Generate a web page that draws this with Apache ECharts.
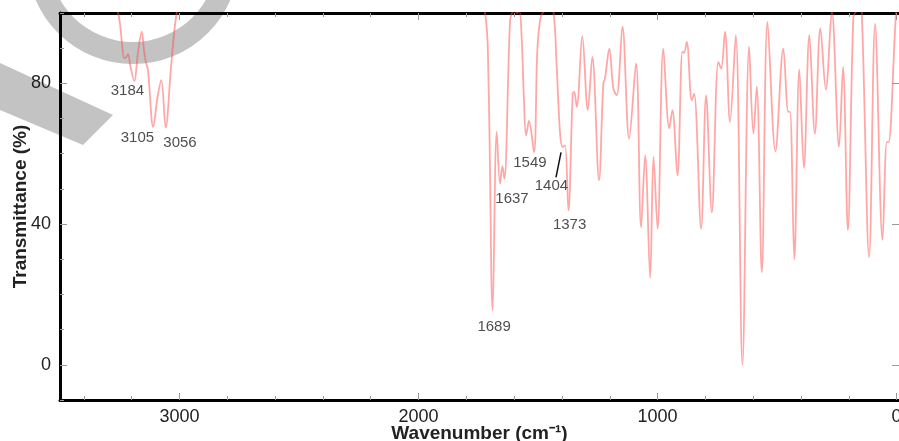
<!DOCTYPE html>
<html>
<head>
<meta charset="utf-8">
<script src="https://cdn.jsdelivr.net/npm/echarts@6/dist/echarts.min.js"></script>
<style>html,body{margin:0;padding:0;background:#fff}#c{width:899px;height:441px}</style>
</head>
<body>
<div id="c"></div>
<script>
// Spectrum: [wavenumber (cm-1), transmittance (%)]
var spectrumPoints = [
  [3500,104],[3280,102],[3257,100],[3240,91],[3232,87.2],[3222,87.5],[3215,88.3],[3206,85],[3189,80.6],
  [3175,88],[3158,94.7],[3148,89],[3141,86.1],[3132,83.8],[3110,67.6],[3092,76],[3076,80.9],[3058,67.4],
  [3035,85],[3012,100],[2990,104],[2500,104],[2000,104],[1760,104],[1722,100],[1708,82.8],[1690,15.4],
  [1673,66.2],[1659,51.5],[1649,56.5],[1641,52.9],[1617,98],[1606,100.5],[1597,101],[1588,100],[1578,100.5],
  [1568,92],[1559,75.2],[1550,65.2],[1538,69.3],[1517,60.4],[1503,89.5],[1489,98.9],[1475,100.5],[1456,102],
  [1436,100.5],[1422,84.7],[1408,65.8],[1397,61.9],[1387,62.4],[1373,43.9],[1355,77.1],[1349,77.6],[1338,73.3],
  [1315,93.4],[1292,72.4],[1273,87.5],[1245,52.4],[1227,80.0],[1220,81.4],[1202,89.9],[1185,78.5],[1171,76.6],
  [1147,96.1],[1119,64.3],[1090,85.7],[1069,39.1],[1052,59.5],[1031,24.8],[1017,59.1],[1000,38.7],[976,89.9],
  [951,67.2],[938,72.4],[917,53.8],[896,89.0],[889,88.7],[878,91.8],[857,75.2],[847,77.1],[818,38.7],[797,76.6],
  [773,43.3],[746,86.1],[734,84.2],[718,94.7],[697,69.0],[673,93.7],[645,0],[617,90.4],[599,65.7],[585,79.1],
  [564,26.3],[540,97.5],[507,60.7],[474,89.9],[453,71.9],[446,71.9],[428,30.0],[407,84.0],[388,56.0],[365,93.7],
  [342,65.7],[319,95.6],[296,78.2],[271,100.5],[241,62.0],[224,84.6],[204,38.3],[181,98.9],[169,100.5],[158,102],
  [146,100.5],[115,30.6],[90,96.9],[59,35.5],[41,63.3],[34,63.3],[2,100.2],[-10,104]
];
// Peak annotations (text and where the text sits)
var peakText = ['3184','3105','3056','1689','1637','1549','1404','1373'];
var peakTextWn = [3218,3176,2998,1684,1609,1534,1444,1368];
var peakTextT = [77.8,64.4,63.2,10.8,47.3,57.5,51.0,39.9];
var leaderLine = [[1425,53.3],[1404,60.4]];
// Axis ticks
var xMajorTicks = [0,1000,2000,3000];
var xMinorTicks = [0,200,400,600,800,1000,1200,1400,1600,1800,2000,2200,2400,2600,2800,3000,3200,3400];
var yMajorTicks = [0,40,80];
var yMinorTicks = [-10,0,10,20,30,40,50,60,70,80,90,100];

var FONT = 'Liberation Sans, Arial, sans-serif';
var chart = echarts.init(document.getElementById('c'));

function plain(v){ return String(v); }

function xAx(pos, major, labels) {
  return {
    type:'value', inverse:true, min:-10, max:3500, position:pos,
    axisLine:{show:major, onZero:false, lineStyle:{color:'#000', width:3}},
    axisTick:{show:true, inside:true, length: major?7:4, customValues: major?xMajorTicks:xMinorTicks,
              lineStyle:{color:'#999', width:1}},
    axisLabel:{show:labels, customValues:xMajorTicks, formatter:plain, color:'#222', fontSize:18, fontFamily:FONT, margin:8},
    splitLine:{show:false},
    name: labels ? 'Wavenumber (cm\u207B\u00B9)' : '',
    nameLocation:'middle', nameGap:24, nameMoveOverlap:false,
    nameTextStyle:{fontWeight:'bold', fontSize:19, color:'#222', fontFamily:FONT}
  };
}
function yAx(pos, major, labels, line) {
  return {
    type:'value', min:-10, max:100, position:pos,
    axisLine:{show:line, onZero:false, lineStyle:{color:'#000', width:3}},
    axisTick:{show:true, inside:true, length: major?7:4, customValues: major?yMajorTicks:yMinorTicks,
              lineStyle:{color:'#999', width:1}},
    axisLabel:{show:labels, customValues:yMajorTicks, formatter:plain, color:'#222', fontSize:18, fontFamily:FONT, margin:9},
    splitLine:{show:false},
    name: labels ? 'Transmittance (%)' : '',
    nameLocation:'middle', nameGap:30, nameRotate:90, nameMoveOverlap:false,
    nameTextStyle:{fontWeight:'bold', fontSize:19, color:'#222', fontFamily:FONT}
  };
}

var labelData = peakText.map(function(t,i){ return {name:t, value:[peakTextWn[i], peakTextT[i]]}; });

chart.setOption({
  animation:false,
  backgroundColor:'#fff',
  grid:{left:60, right:0, top:13, bottom:41, containLabel:false, outerBoundsMode:'none'},
  graphic:[
    {type:'ring', z:-10, shape:{cx:133, cy:-42, r:106, r0:84}, style:{fill:'#c3c3c3'}},
    {type:'polygon', z:-10, shape:{points:[[0,63],[113,115],[83,145],[0,110]]}, style:{fill:'#c3c3c3'}}
  ],
  xAxis:[ xAx('bottom', true, true), xAx('bottom', false, false), xAx('top', true, false), xAx('top', false, false) ],
  yAxis:[ yAx('left', true, true, true), yAx('left', false, false, false), yAx('right', true, false, false) ],
  series:[
    {type:'line', xAxisIndex:0, yAxisIndex:0, data:spectrumPoints, showSymbol:false, smooth:0.35, clip:true,
     lineStyle:{color:'rgba(255,80,80,0.5)', width:1.8}, z:3},
    {type:'line', xAxisIndex:0, yAxisIndex:0, data:leaderLine, showSymbol:false,
     lineStyle:{color:'#111', width:1.5}, z:4},
    {type:'scatter', xAxisIndex:0, yAxisIndex:0, data:labelData, symbolSize:0, z:5,
     label:{show:true, position:'inside', formatter:'{b}', color:'#222', fontSize:15, fontFamily:FONT}}
  ]
});
</script>
</body>
</html>
